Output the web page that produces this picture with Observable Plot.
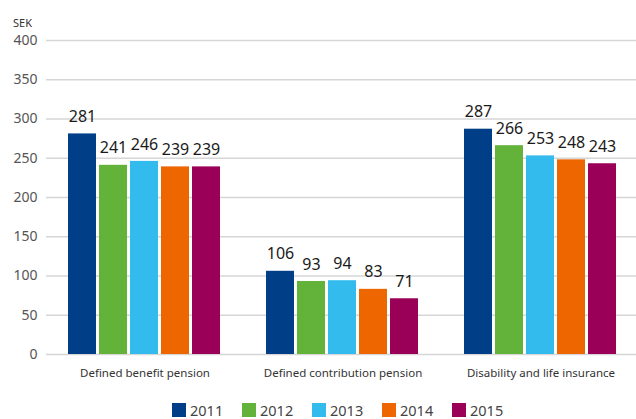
<!DOCTYPE html>
<html><head><meta charset="utf-8">
<script src="https://cdn.jsdelivr.net/npm/d3@7"></script>
<script src="https://cdn.jsdelivr.net/npm/@observablehq/plot@0.6"></script>
<style>
body{margin:0;background:#fff;font-family:"Noto Sans",sans-serif;overflow:hidden;}
#wrap{position:relative;width:636px;height:395px;overflow:hidden;}
#wrap svg{position:absolute;left:0;top:0;max-width:none !important;height:395px !important;}
#unit{position:absolute;left:13px;top:15px;font-size:11px;color:#333;z-index:2;}
#legend{display:flex;justify-content:center;padding-left:58px;margin-top:8px;font-size:14.5px;line-height:13px;color:#444;}
.item{display:flex;align-items:center;width:70px;}
.sw{width:14px;height:14px;margin-right:4px;flex:none;}
</style></head><body>
<div id="wrap"><div id="unit">SEK</div></div>
<div id="legend"></div>
<script>
const categories = ["Defined benefit pension", "Defined contribution pension", "Disability and life insurance"];
const years = ["2011", "2012", "2013", "2014", "2015"];
const v2011 = [281, 106, 287];
const v2012 = [241, 93, 266];
const v2013 = [246, 94, 253];
const v2014 = [239, 83, 248];
const v2015 = [239, 71, 243];
const yTicks = [0, 50, 100, 150, 200, 250, 300, 350, 400];
const colors = ["#003f87", "#63b33a", "#33bbee", "#ee6600", "#9b0058"];

const series = [v2011, v2012, v2013, v2014, v2015];
const data = [];
categories.forEach((c, i) => years.forEach((y, j) => data.push({category: c, year: y, value: series[j][i]})));

const common = {
  height: 395,
  marginTop: 40, marginBottom: 41, marginLeft: 46, marginRight: 0,
  style: {fontFamily: "Noto Sans, sans-serif", background: "transparent"}
};

const back = Plot.plot({
  ...common,
  width: 636,
  y: {domain: [0, 400], axis: null},
  marks: [
    Plot.ruleY(yTicks, {stroke: "#d6d6d6", strokeWidth: 1.3}),
    Plot.axisY({ticks: yTicks, tickSize: 0, tickPadding: 9, fontSize: 14, fill: "#555", label: null})
  ]
});

const front = Plot.plot({
  ...common,
  width: 640,
  fx: {domain: categories, paddingInner: 0.216, paddingOuter: 0.103, label: null, axis: null},
  x: {domain: years, paddingInner: 0.095, paddingOuter: 0, axis: null},
  y: {domain: [0, 400], axis: null},
  color: {domain: years, range: colors},
  marks: [
    Plot.barY(data, {fx: "category", x: "year", y: "value", fill: "year"}),
    Plot.text(data, {fx: "category", x: "year", y: "value", text: d => String(d.value), dy: -17, fontSize: 16, fill: "#1a1a1a"}),
    Plot.axisFx({anchor: "bottom", tickSize: 0, tickPadding: 14, fontSize: 11.5, fill: "#333", label: null})
  ]
});
const wrap = document.getElementById("wrap");
wrap.insertBefore(back, wrap.firstChild);
wrap.insertBefore(front, back.nextSibling);

const leg = document.getElementById("legend");
years.forEach((y, j) => {
  const it = document.createElement("div"); it.className = "item";
  const sw = document.createElement("div"); sw.className = "sw"; sw.style.background = colors[j];
  const t = document.createElement("span"); t.textContent = y;
  it.appendChild(sw); it.appendChild(t); leg.appendChild(it);
});
</script>
</body></html>
